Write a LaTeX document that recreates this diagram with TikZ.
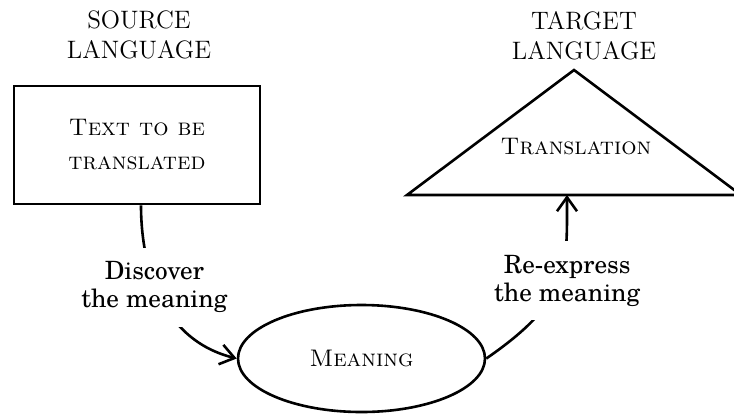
\documentclass[tikz,border=0pt]{standalone}
\usepackage{fontspec}
\usepackage{tikz}
\usetikzlibrary{shapes.geometric,arrows.meta}

\newfontfamily{\stepfont}{texgyreschola-regular.otf}

\begin{document}
\begin{tikzpicture}[x=0.5pt, y=-0.5pt, line width=1.3pt,
    lang/.style={align=center, font=\fontsize{12.6}{15}\selectfont},
    steplabel/.style={align=center, font=\fontsize{12.6}{14}\stepfont, fill=white, inner xsep=3pt, inner ysep=7pt},
    flow/.style={-{Straight Barb[length=7pt,width=10pt]}}]
    \useasboundingbox (0,0) rectangle (734,414);
    \clip (0,0) rectangle (734,414);

    \node[lang] (srclang) at (139,35) {SOURCE\\LANGUAGE};
    \node[lang] (tgtlang) at (584,36) {TARGET\\LANGUAGE};

    \node[draw, minimum width=123pt, minimum height=59pt, align=center, font=\large] (source) at (137,145) {\textsc{Text to be}\\[3pt]\textsc{translated}};

    \draw (407,195) -- (574,70) -- (741,195) -- cycle;
    \node[font=\large] (target) at (576,147) {\textsc{Translation}};
    \coordinate (tbase) at (567,195);

    \node[draw, ellipse, minimum width=123.5pt, minimum height=53.5pt, font=\large] (meaning) at (361.5,358.5) {\textsc{Meaning}};

    \draw[flow] ([xshift=2pt]source.south) .. controls +(0,27) and +(-92,-23) .. (meaning.west)
        node[steplabel, pos=0.5, yshift=-2pt] (discover) {Discover\\the meaning};
    \draw[flow] (meaning.east) .. controls +(84,-58) and +(0,74) .. (tbase)
        node[steplabel, pos=0.5, xshift=4.5pt, yshift=1pt] (reexpress) {Re-express\\the meaning};
\end{tikzpicture}
\end{document}
